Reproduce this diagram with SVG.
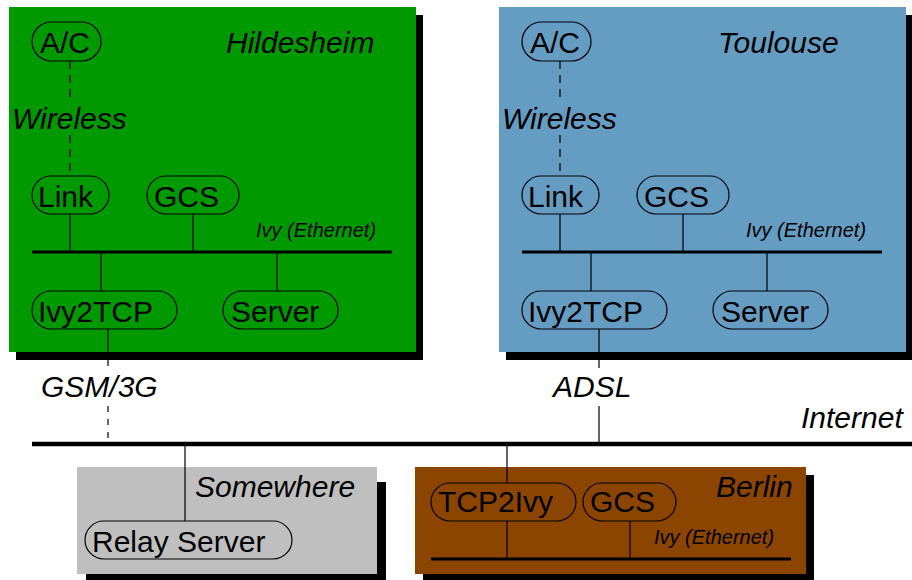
<svg xmlns="http://www.w3.org/2000/svg" width="912" height="580" viewBox="0 0 912 580">
<style>
text{font-family:"Liberation Sans",Arial,Helvetica,sans-serif;fill:#000}
.n{font-size:30px}
.it{font-size:30px;font-style:italic}
.sm{font-size:20px;font-style:italic}
.node{fill:none;stroke:#000;stroke-width:1.2}
.shadow{fill:#000}
.w{stroke:#000;stroke-width:1.2;fill:none}
.dash{stroke:#000;stroke-width:1.2;fill:none;stroke-dasharray:8 6}
.dash2{stroke:#000;stroke-width:1.2;fill:none;stroke-dasharray:6 7}
.bus{stroke:#000;stroke-width:3;fill:none}
.net{stroke:#000;stroke-width:4.5;fill:none}
</style>
<rect width="912" height="580" fill="#fff"/>
<g id="region-hildesheim">
<rect class="shadow" x="16" y="15" width="407" height="345"/>
<rect x="9" y="7" width="407" height="345" fill="#009900"/>
<text class="it" x="226" y="53">Hildesheim</text>
</g>
<g id="region-toulouse">
<rect class="shadow" x="506" y="15" width="407" height="345"/>
<rect x="499" y="7" width="407" height="345" fill="#659cc2"/>
<text class="it" x="718" y="53">Toulouse</text>
</g>
<g id="region-somewhere">
<rect class="shadow" x="86" y="482" width="300" height="110"/>
<rect x="77" y="467" width="300" height="107" fill="#bfbfbf"/>
<text class="it" x="195" y="497">Somewhere</text>
</g>
<g id="region-berlin">
<rect class="shadow" x="423" y="475" width="391" height="110"/>
<rect x="415" y="467" width="391" height="107" fill="#8b4500"/>
<text class="it" x="716" y="497">Berlin</text>
</g>
<g id="connectors">
<path class="dash" d="M70 61V100M70 135V176"/>
<text class="it" x="12" y="129">Wireless</text>
<path class="w" d="M70 214V252M193 214V252M101 252V291M277 252V291"/>
<path class="bus" d="M32 252H392"/>
<text class="sm" x="256" y="237">Ivy (Ethernet)</text>
<path class="dash" d="M560 61V100M560 135V176"/>
<text class="it" x="502" y="129">Wireless</text>
<path class="w" d="M560 214V252M683 214V252M591 252V291M767 252V291"/>
<path class="bus" d="M522 252H882"/>
<text class="sm" x="746" y="237">Ivy (Ethernet)</text>
<path class="w" d="M108 329V352"/>
<path class="dash2" d="M108 360V368M108 406V444"/>
<text class="it" x="41" y="397">GSM/3G</text>
<path class="w" d="M599 329V368M599 406V444"/>
<text class="it" x="553" y="397">ADSL</text>
<path class="net" d="M32 444H912"/>
<text class="it" x="801" y="428">Internet</text>
<path class="w" d="M185 446V521"/>
<path class="w" d="M507 446V483M507 521V559M630 521V559"/>
<path class="bus" d="M431 559H791"/>
<text class="sm" x="654" y="544">Ivy (Ethernet)</text>
</g>
<g id="node-hil-ac"><rect class="node" x="32" y="22" width="69" height="39" rx="19.5"/><text class="n" x="40" y="53">A/C</text></g>
<g id="node-hil-link"><rect class="node" x="32" y="176" width="77" height="38" rx="19"/><text class="n" x="38" y="207">Link</text></g>
<g id="node-hil-gcs"><rect class="node" x="147" y="176" width="92" height="38" rx="19"/><text class="n" x="154" y="207">GCS</text></g>
<g id="node-hil-ivy2tcp"><rect class="node" x="32" y="291" width="145" height="38" rx="19"/><text class="n" x="38" y="322">Ivy2TCP</text></g>
<g id="node-hil-server"><rect class="node" x="223" y="291" width="115" height="38" rx="19"/><text class="n" x="231" y="322">Server</text></g>
<g id="node-tls-ac"><rect class="node" x="522" y="22" width="69" height="39" rx="19.5"/><text class="n" x="530" y="53">A/C</text></g>
<g id="node-tls-link"><rect class="node" x="522" y="176" width="77" height="38" rx="19"/><text class="n" x="528" y="207">Link</text></g>
<g id="node-tls-gcs"><rect class="node" x="637" y="176" width="92" height="38" rx="19"/><text class="n" x="644" y="207">GCS</text></g>
<g id="node-tls-ivy2tcp"><rect class="node" x="522" y="291" width="145" height="38" rx="19"/><text class="n" x="528" y="322">Ivy2TCP</text></g>
<g id="node-tls-server"><rect class="node" x="713" y="291" width="115" height="38" rx="19"/><text class="n" x="721" y="322">Server</text></g>
<g id="node-relay"><rect class="node" x="85" y="521" width="207" height="38" rx="19"/><text class="n" x="92" y="552">Relay Server</text></g>
<g id="node-tcp2ivy"><rect class="node" x="431" y="483" width="145" height="38" rx="19"/><text class="n" x="438" y="512">TCP2Ivy</text></g>
<g id="node-ber-gcs"><rect class="node" x="583" y="483" width="93" height="38" rx="19"/><text class="n" x="590" y="512">GCS</text></g>
</svg>
